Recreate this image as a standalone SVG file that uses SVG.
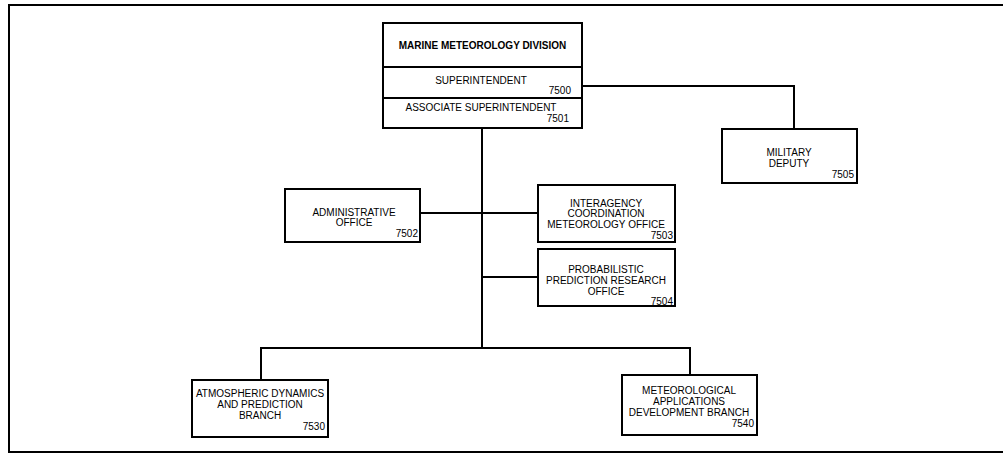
<svg xmlns="http://www.w3.org/2000/svg" width="1003" height="453" viewBox="0 0 1003 453">
<style>
.box{fill:#fff;stroke:#000;stroke-width:2}
.ln{fill:none;stroke:#000;stroke-width:2}
text{font-family:"Liberation Sans",Arial,sans-serif;font-size:10px;fill:#000}
.c{text-anchor:middle}
.r{text-anchor:end}
.b{font-weight:bold}
</style>
<rect x="0" y="0" width="1003" height="453" fill="#fff"/>
<path class="ln" d="M1010,5 H9 V452 H1010" stroke-width="2.5"/>
<g id="connectors">
<path class="ln" d="M582,86 H794 V129"/>
<path class="ln" d="M482,128 V348"/>
<path class="ln" d="M420,213 H538"/>
<path class="ln" d="M482,277 H538"/>
<path class="ln" d="M261,380 V348 H690 V375"/>
</g>
<g id="division">
<rect class="box" x="383" y="23" width="199" height="105"/>
<line class="ln" x1="383" y1="67" x2="582" y2="67"/>
<line class="ln" x1="383" y1="98" x2="582" y2="98"/>
<text class="c b" x="482.5" y="48.5">MARINE METEOROLOGY DIVISION</text>
<text class="c" x="481" y="83.5">SUPERINTENDENT</text>
<text class="r" x="571" y="94">7500</text>
<text class="c" x="481" y="110.5">ASSOCIATE SUPERINTENDENT</text>
<text class="r" x="569" y="121.5">7501</text>
</g>
<g id="military">
<rect class="box" x="722" y="129" width="135" height="54"/>
<text class="c" x="789" y="155.5">MILITARY</text>
<text class="c" x="789" y="166.5">DEPUTY</text>
<text class="r" x="854" y="177.5">7505</text>
</g>
<g id="admin">
<rect class="box" x="285" y="189" width="135" height="53"/>
<text class="c" x="354" y="215.5">ADMINISTRATIVE</text>
<text class="c" x="354" y="225.5">OFFICE</text>
<text class="r" x="418" y="236.5">7502</text>
</g>
<g id="interagency">
<rect class="box" x="538" y="185" width="137" height="57"/>
<text class="c" x="606" y="206.5">INTERAGENCY</text>
<text class="c" x="606" y="217">COORDINATION</text>
<text class="c" x="606" y="227.5">METEOROLOGY OFFICE</text>
<text class="r" x="673" y="238.5">7503</text>
</g>
<g id="probabilistic">
<rect class="box" x="538" y="249" width="137" height="57"/>
<text class="c" x="606" y="272.5">PROBABILISTIC</text>
<text class="c" x="606" y="283.5">PREDICTION RESEARCH</text>
<text class="c" x="606" y="294.5">OFFICE</text>
<text class="r" x="673" y="304.5">7504</text>
</g>
<g id="atmospheric">
<rect class="box" x="192" y="380" width="136" height="57"/>
<text class="c" x="260" y="396.5">ATMOSPHERIC DYNAMICS</text>
<text class="c" x="260" y="407.5">AND PREDICTION</text>
<text class="c" x="260" y="418.5">BRANCH</text>
<text class="r" x="325" y="429.5">7530</text>
</g>
<g id="meteorological">
<rect class="box" x="622" y="375" width="135" height="60"/>
<text class="c" x="689" y="393.5">METEOROLOGICAL</text>
<text class="c" x="689" y="404.5">APPLICATIONS</text>
<text class="c" x="689" y="415.5">DEVELOPMENT BRANCH</text>
<text class="r" x="754" y="426.5">7540</text>
</g>
</svg>
